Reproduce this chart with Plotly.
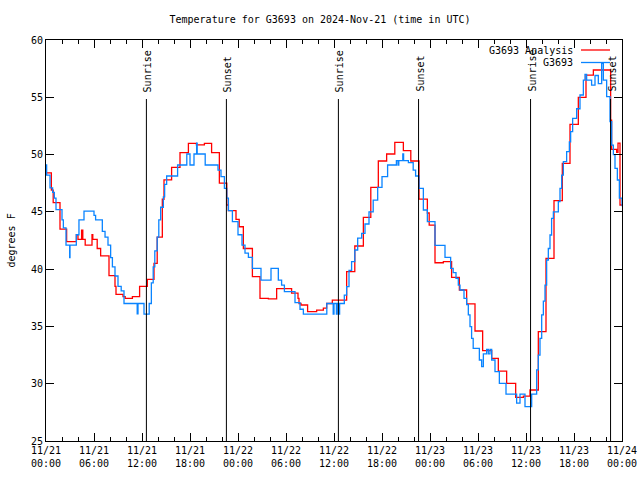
import pandas as pd
import plotly.graph_objects as go

# ---------------- data ----------------
base = pd.Timestamp("2024-11-21 00:00")

# G3693 Analysis (red), hours after 11/21 00:00 UTC, degrees F
ana_hours = [0.0, 0.67, 0.9, 1.75, 2.58, 3.8, 4.0, 4.45, 4.6, 4.9, 5.75, 5.85, 6.4, 6.83,
             7.875, 8.625, 8.75, 9.625, 9.9, 10.8, 11.7, 12.67, 13.5, 13.9, 14.54, 14.75,
             15.7, 16.75, 17.8, 18.8, 19.8, 20.7, 21.67, 22.6, 22.8, 23.75, 24.15, 24.67,
             25.8, 26.75, 27.8, 28.83, 30.7, 31.5, 31.625, 31.875, 32.7, 33.83, 34.67,
             35.08, 35.79, 37.58, 38.6, 39.67, 40.6, 41.54, 42.58, 43.6, 44.67, 45.6,
             46.625, 47.67, 47.9, 48.625, 49.67, 50.7, 51.67, 52.58, 53.625, 54.58,
             55.71, 56.54, 57.58, 58.71, 59.67, 60.5, 61.54, 62.5, 63.5, 64.54, 65.5,
             66.54, 67.5, 68.42, 70.58, 70.7, 71.33, 71.5, 71.75, 72.0]
ana_temp = [48.4, 46.9, 45.8, 43.5, 42.4, 43.0, 42.6, 43.4, 42.6, 42.1, 43.0, 42.6, 41.8, 41.15,
            39.43, 38.5, 37.8, 37.6, 37.45, 37.6, 38.5, 39.1, 40.5, 42.8, 46.1, 47.8,
            48.88, 50.17, 50.98, 50.85, 50.98, 50.17, 47.5, 45.6, 45.1, 44.35, 43.7, 41.8,
            39.34, 37.45, 37.4, 38.3, 37.9, 37.45, 37.0, 36.87, 36.3, 36.43, 36.6,
            37.0, 37.3, 39.78, 42.02, 44.52, 47.14, 49.44, 50.05, 51.07, 50.34, 49.44,
            46.12, 44.9, 43.85, 40.56, 40.65, 39.28, 38.18, 36.96, 34.6, 32.88,
            32.21, 31.1, 30.03, 28.81, 28.92, 29.45, 34.54, 40.94, 45.98, 49.23, 52.64,
            54.99, 56.94, 57.38, 53.0, 50.45, 50.2, 51.0, 45.6, 45.6]

# G3693 observations (blue)
obs_hours = [0.0, 0.08, 0.5, 0.83, 1.04, 1.25, 2.0, 2.17, 2.5, 2.96, 3.0, 3.79, 4.12, 4.75,
             6.0, 6.2, 7.04, 7.38, 7.75, 8.08, 8.3, 8.625, 9.0, 9.4, 9.75, 11.4, 11.5,
             12.25, 12.9, 13.17, 13.4, 13.6, 13.9, 14.1, 14.33, 14.67, 14.83, 15.08,
             16.45, 17.6, 18.0, 18.5, 18.83, 18.9, 19.9, 21.5, 21.875, 22.3, 22.6, 22.8,
             23.3, 24.0, 24.5, 24.875, 25.3, 25.8, 26.875, 28.125, 29.04, 29.45, 29.8,
             31.125, 31.75, 32.17, 35.1, 35.9, 36.0, 36.3, 36.4, 36.6, 36.7, 37.29,
             37.58, 37.875, 38.2, 38.6, 38.96, 39.46, 39.875, 40.375, 40.9, 41.46, 42.0,
             42.7, 43.8, 44.0, 44.1, 44.6, 44.7, 45.3, 45.9, 46.2, 46.625, 47.17, 47.67,
             48.625, 49.875, 50.58, 50.9, 51.25, 51.54, 51.75, 52.25, 52.58, 52.79, 53.0,
             53.2, 53.4, 54.17, 54.46, 54.67, 55.08, 55.29, 55.5, 55.71, 56.125, 56.67,
             57.5, 58.83, 59.25, 59.875, 60.71, 61.33, 61.54, 61.75, 61.96, 62.17, 62.375,
             62.58, 62.79, 63.0, 63.2, 63.42, 64.04, 64.25, 64.46, 64.67, 65.08, 65.42,
             65.58, 65.83, 66.33, 66.75, 67.17, 67.375, 67.58, 68.2, 68.625, 69.04, 69.46,
             69.67, 70.08, 70.5, 70.71, 70.92, 71.125, 71.42, 71.67, 72.0]
obs_temp = [49.1, 48.2, 47.1, 46.7, 46.2, 45.2, 44.3, 43.6, 42.1, 41.0, 42.1, 43.0, 44.3, 45.07,
            44.7, 44.3, 43.3, 42.8, 42.1, 41.0, 40.2, 39.4, 38.5, 38.1, 37.0, 36.1, 37.0,
            36.08, 37.0, 38.8, 40.2, 41.6, 42.8, 44.3, 45.4, 46.3, 47.4, 48.13,
            49.09, 50.05, 49.09, 50.05, 51.0, 50.05, 49.09, 48.65, 48.07, 47.05, 46.2, 45.1,
            44.14, 43.0, 42.1, 41.4, 41.03, 40.07, 39.05, 40.07, 39.05, 38.6, 38.03,
            37.07, 36.5, 36.08, 37.0, 36.08, 37.0, 36.08, 37.0, 36.08, 37.0, 37.74,
            38.47, 39.9, 40.65, 41.67, 42.7, 43.13, 43.94, 45.0, 46.03, 47.14, 48.07,
            49.09, 49.47, 49.09, 49.47, 50.05, 49.47, 49.3, 48.65, 48.13, 47.05, 45.16, 44.14,
            42.08, 41.03, 40.07, 39.7, 39.2, 38.6, 38.18, 37.45, 36.9, 36.0, 34.98,
            33.96, 33.09, 32.07, 31.5, 32.6, 33.0, 32.6, 33.0, 32.07, 31.05, 30.03,
            29.1, 28.3, 29.1, 28.0, 29.1, 31.2, 32.5, 33.96, 36.0, 37.2, 38.6,
            40.8, 41.8, 42.98, 44.43, 45.0, 45.9, 47.05, 48.2, 49.38, 50.25, 51.1,
            52.0, 53.16, 54.0, 55.2, 56.5, 57.0, 56.5, 56.07, 56.9, 56.2, 57.96,
            56.5, 55.05, 52.87, 50.83, 50.0, 48.8, 47.78, 46.2, 45.5]

# Sun events (hours after 11/21 00:00 UTC)
sun_hours = [12.55, 22.55, 36.55, 46.57, 60.57, 70.57]
sun_labels = ["Sunrise", "Sunset", "Sunrise", "Sunset", "Sunrise", "Sunset"]
sun_line_top = 54.85

tick_hours = [0, 6, 12, 18, 24, 30, 36, 42, 48, 54, 60, 66, 72]
tick_labels = ["11/21<br>00:00", "11/21<br>06:00", "11/21<br>12:00", "11/21<br>18:00",
               "11/22<br>00:00", "11/22<br>06:00", "11/22<br>12:00", "11/22<br>18:00",
               "11/23<br>00:00", "11/23<br>06:00", "11/23<br>12:00", "11/23<br>18:00",
               "11/24<br>00:00"]

# ---------------- figure ----------------
def to_time(hours):
    return [base + pd.Timedelta(hours=h) for h in hours]

FONT = "DejaVu Sans Mono"
FS = 10
RED = "#ff0000"
BLUE = "#0a84ff"

fig = go.Figure()
fig.add_trace(go.Scatter(x=to_time(ana_hours), y=ana_temp, mode="lines",
                         line=dict(color=RED, width=1.3, shape="hv"),
                         name="G3693 Analysis", showlegend=False))
fig.add_trace(go.Scatter(x=to_time(obs_hours), y=obs_temp, mode="lines",
                         line=dict(color=BLUE, width=1.3, shape="hv"),
                         name="G3693", showlegend=False))

shapes = []
annotations = []
for h, lab in zip(sun_hours, sun_labels):
    t = base + pd.Timedelta(hours=h)
    shapes.append(dict(type="line", xref="x", yref="y", x0=t, x1=t, y0=25, y1=sun_line_top,
                       line=dict(color="black", width=1)))
    annotations.append(dict(x=t, xref="x", y=(441 - 94) / 401, yref="paper",
                            text=lab, textangle=-90, showarrow=False,
                            xanchor="center", yanchor="bottom", xshift=1,
                            font=dict(family=FONT, size=FS, color="black")))

# legend (gnuplot style: text then line sample)
leg = [("G3693 Analysis", RED, 50), ("G3693", BLUE, 62.5)]
for txt, col, ypx in leg:
    yp = (441 - ypx) / 401
    annotations.append(dict(x=(575 - 46) / 576, xref="paper", y=yp, yref="paper",
                            text=txt, showarrow=False, xanchor="right", yanchor="middle",
                            font=dict(family=FONT, size=FS, color="black")))
    shapes.append(dict(type="line", xref="paper", yref="paper",
                       x0=(581 - 46) / 576, x1=(610 - 46) / 576, y0=yp, y1=yp,
                       line=dict(color=col, width=1.3)))

annotations.append(dict(x=(11 - 46) / 576, xref="paper", y=0.5, yref="paper",
                        text="degrees F", textangle=-90, showarrow=False,
                        xanchor="center", yanchor="middle",
                        font=dict(family=FONT, size=FS, color="black")))

fig.update_layout(
    width=640, height=480,
    margin=dict(l=46, r=18, t=40, b=39, autoexpand=False),
    paper_bgcolor="white", plot_bgcolor="white",
    font=dict(family=FONT, size=FS, color="black"),
    title=dict(text="Temperature for G3693 on 2024-Nov-21 (time in UTC)",
               x=0.5, xanchor="center", y=1 - 19 / 480, yanchor="middle",
               font=dict(family=FONT, size=FS, color="black")),
    shapes=shapes, annotations=annotations, showlegend=False,
)
fig.update_xaxes(
    range=[base, base + pd.Timedelta(hours=72)], automargin=False,
    tickvals=to_time(tick_hours), ticktext=tick_labels,
    ticks="inside", ticklen=8, tickcolor="black", tickwidth=1,
    showline=True, linecolor="black", linewidth=1, mirror="ticks",
    showgrid=False, zeroline=False,
    minor=dict(ticks="inside", ticklen=4, tickcolor="black",
               dtick=2 * 3600 * 1000, tick0=base, showgrid=False),
    tickfont=dict(family=FONT, size=FS, color="black"),
)
fig.update_yaxes(
    range=[25, 60], dtick=5, tick0=25, automargin=False,
    ticks="inside", ticklen=8, tickcolor="black", tickwidth=1,
    showline=True, linecolor="black", linewidth=1, mirror="ticks",
    showgrid=False, zeroline=False,
    tickfont=dict(family=FONT, size=FS, color="black"),
)

# remove the default 8px page margin so the 640x480 figure fills the window exactly
fig.write_html("out.html",
               config={"displayModeBar": False},
               post_script="document.body.style.margin='0px';"
                           "document.body.style.overflow='hidden';")
